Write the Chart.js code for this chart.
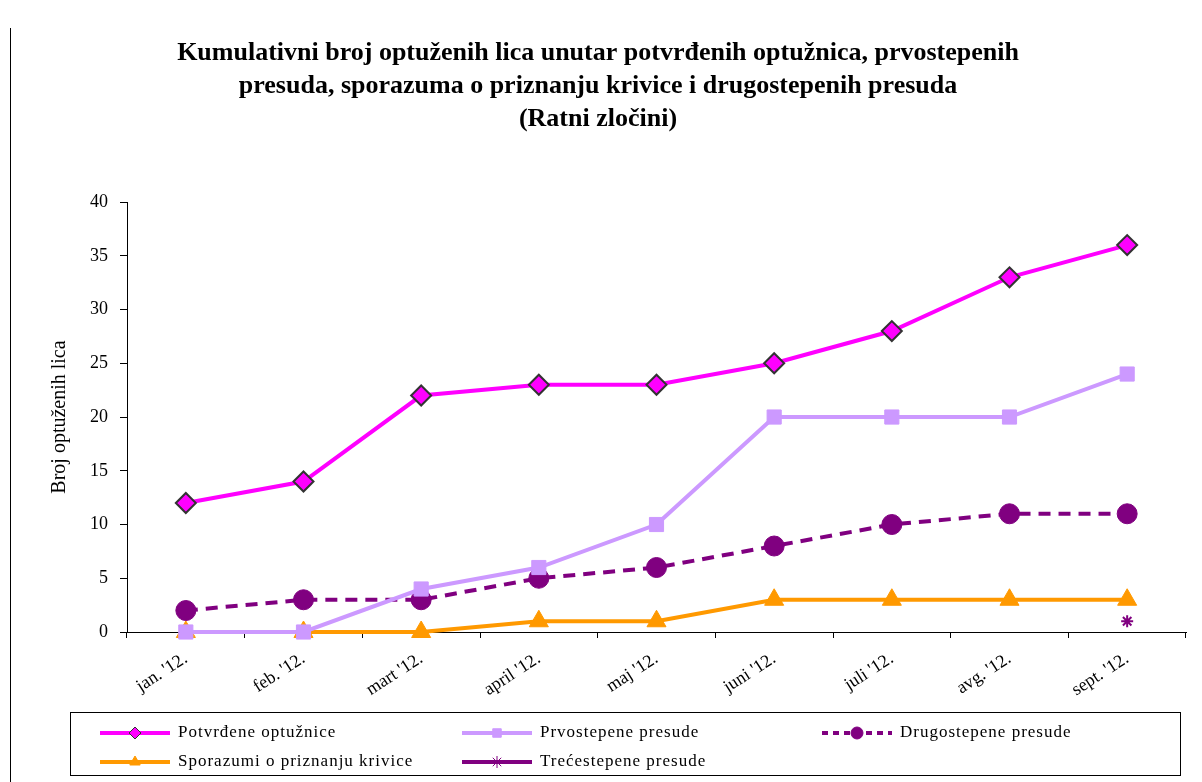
<!DOCTYPE html>
<html>
<head>
<meta charset="utf-8">
<script src="https://cdn.jsdelivr.net/npm/chart.js@4/dist/chart.umd.min.js"></script>
<style>
html, body { margin: 0; padding: 0; background: #fff; }
#wrap { width: 1202px; height: 782px; position: relative; }
</style>
</head>
<body>
<div id="wrap"><canvas id="myChart" width="1202" height="782"></canvas></div>
<script>
const months = ["jan. '12.", "feb. '12.", "mart '12.", "april '12.", "maj '12.", "juni '12.", "juli '12.", "avg. '12.", "sept. '12."];
const potvrdene = [12, 14, 22, 23, 23, 25, 28, 33, 36];
const prvostepene = [0, 0, 4, 6, 10, 20, 20, 20, 24];
const drugostepene = [2, 3, 3, 5, 6, 8, 10, 11, 11];
const sporazumi = [0, 0, 0, 1, 1, 3, 3, 3, 3];
const trecestepene = [null, null, null, null, null, null, null, null, 1];
const titleLines = [
	'Kumulativni broj optuženih lica unutar potvrđenih optužnica, prvostepenih',
	'presuda, sporazuma o priznanju krivice i drugostepenih presuda',
	'(Ratni zločini)'
];

const serif = "'Liberation Serif', 'Times New Roman', serif";

// legend drawn as a boxed table under the chart, like the original
const boxLegend = {
	id: 'boxLegend',
	afterDraw(chart) {
		const c = chart.ctx;
		c.save();
		// left frame edge
		c.strokeStyle = '#000';
		c.lineWidth = 1;
		c.beginPath();
		c.moveTo(10.5, 28);
		c.lineTo(10.5, 782);
		c.stroke();
		c.strokeRect(70.5, 712.5, 1110, 63);
		const slots = [[100, 733], [462, 733], [822, 733], [100, 762], [462, 762]];
		chart.data.datasets.forEach((ds, i) => {
			const [x, y] = slots[i];
			c.strokeStyle = ds.borderColor;
			c.lineWidth = 4;
			c.setLineDash(ds.borderDash ? [6, 5] : []);
			c.beginPath();
			c.moveTo(x, y);
			c.lineTo(x + 70, y);
			c.stroke();
			c.setLineDash([]);
			c.fillStyle = ds.pointBackgroundColor;
			c.strokeStyle = ds.pointBorderColor;
			c.lineWidth = 1;
			Chart.helpers.drawPoint(c, {pointStyle: ds.pointStyle, radius: 6, rotation: 0, borderWidth: 1}, x + 35, y);
			c.fillStyle = '#000';
			c.font = '17px ' + serif;
			c.letterSpacing = '1px';
			c.textBaseline = 'middle';
			c.fillText(ds.label, x + 78, y);
		});
		c.restore();
	}
};

new Chart(document.getElementById('myChart'), {
	type: 'line',
	data: {
		labels: months,
		datasets: [{
			label: 'Potvrđene optužnice',
			data: potvrdene,
			borderColor: '#FF00FF',
			borderWidth: 4,
			pointStyle: 'rectRot',
			pointRadius: 10,
			pointBackgroundColor: '#FF00FF',
			pointBorderColor: '#333333',
			pointBorderWidth: 2,
		},
		{
			label: 'Prvostepene presude',
			data: prvostepene,
			borderColor: '#CC99FF',
			borderWidth: 4,
			pointStyle: 'rect',
			pointRadius: 10,
			pointBackgroundColor: '#CC99FF',
			pointBorderColor: '#CC99FF',
			pointBorderWidth: 1,
		},
		{
			label: 'Drugostepene presude',
			data: drugostepene,
			borderColor: '#800080',
			borderWidth: 4,
			borderDash: [12, 8],
			pointStyle: 'circle',
			pointRadius: 10,
			pointBackgroundColor: '#800080',
			pointBorderColor: '#800080',
			pointBorderWidth: 1,
		},
		{
			label: 'Sporazumi o priznanju krivice',
			data: sporazumi,
			borderColor: '#FF9900',
			borderWidth: 4,
			pointStyle: 'triangle',
			pointRadius: 11,
			pointBackgroundColor: '#FF9900',
			pointBorderColor: '#FF9900',
			pointBorderWidth: 1,
		},
		{
			label: 'Trećestepene presude',
			data: trecestepene,
			borderColor: '#800080',
			borderWidth: 4,
			pointStyle: 'star',
			pointRadius: 6,
			pointBackgroundColor: '#800080',
			pointBorderColor: '#800080',
			pointBorderWidth: 2,
		}]
	},
	options: {
		responsive: false,
		animation: false,
		clip: false,
		layout: {
			padding: { top: 37, left: 10, right: 16, bottom: 80 }
		},
		plugins: {
			legend: { display: false },
			tooltip: { enabled: false },
			title: {
				display: true,
				text: titleLines,
				color: '#000',
				padding: { top: 0, bottom: 66 },
				font: { family: serif, size: 26, weight: 'bold', lineHeight: 1.27 }
			}
		},
		scales: {
			y: {
				min: 0,
				max: 40,
				afterFit(scale) { scale.width = 117; },
				ticks: {
					stepSize: 5,
					color: '#000',
					padding: 12,
					font: { family: serif, size: 18 }
				},
				grid: { drawOnChartArea: false, tickLength: 7, color: '#000' },
				border: { color: '#000', width: 1 },
				title: {
					display: true,
					text: 'Broj optuženih lica',
					color: '#000',
					padding: { top: 38, bottom: 0 },
					font: { family: serif, size: 20 }
				}
			},
			x: {
				offset: true,
				afterFit(scale) { scale.height = 70; },
				ticks: {
					color: '#000',
					minRotation: 33,
					maxRotation: 33,
					padding: 10,
					font: { family: serif, size: 18 }
				},
				grid: { drawOnChartArea: false, tickLength: 6, color: '#000', offset: true },
				border: { color: '#000', width: 1 }
			}
		}
	},
	plugins: [boxLegend]
});
</script>
</body>
</html>
